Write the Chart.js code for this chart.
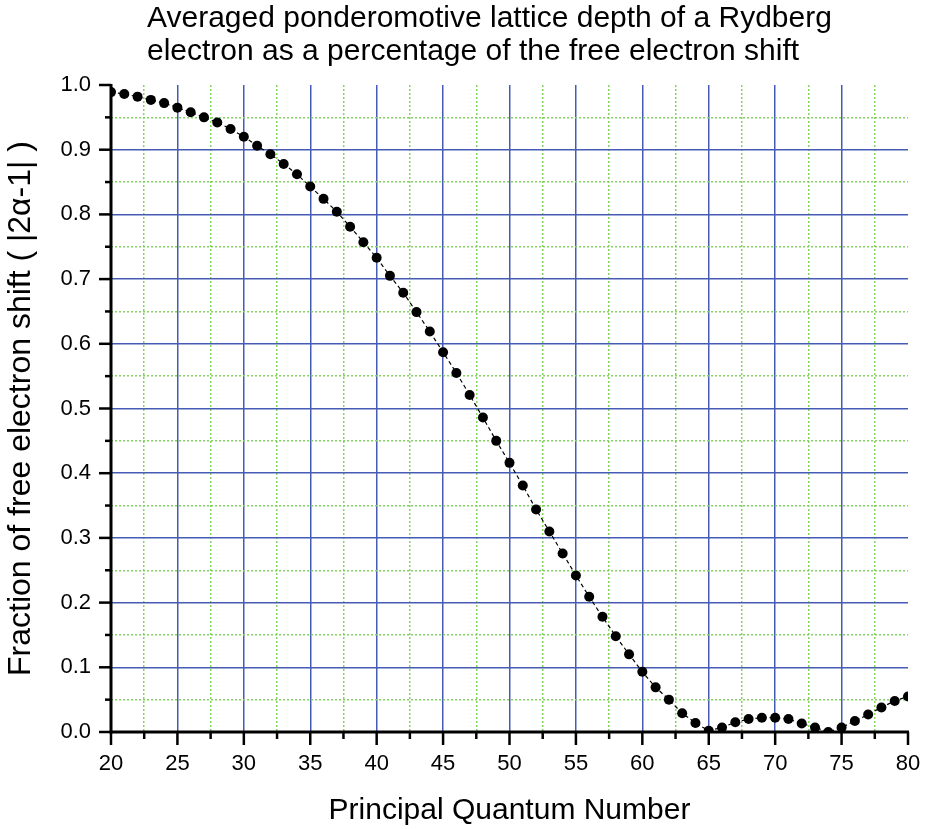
<!DOCTYPE html>
<html>
<head>
<meta charset="utf-8">
<script src="https://cdn.jsdelivr.net/npm/chart.js@4.4.1/dist/chart.umd.min.js"></script>
<style>
  html, body { margin: 0; padding: 0; background: #ffffff; }
  #wrap { position: relative; width: 925px; height: 829px; }
</style>
</head>
<body>
<div id="wrap"><canvas id="c" width="925" height="829"></canvas></div>
<script>
// ---- data ----
const titleLines = [
  "Averaged ponderomotive lattice depth of a Rydberg",
  "electron as a percentage of the free electron shift"
];
const xAxisTitle = "Principal Quantum Number";
const yAxisTitle = "Fraction of free electron shift ( |2\u03B1-1| )";

const principalN = [20,21,22,23,24,25,26,27,28,29,30,31,32,33,34,35,36,37,38,39,40,
  41,42,43,44,45,46,47,48,49,50,51,52,53,54,55,56,57,58,59,60,
  61,62,63,64,65,66,67,68,69,70,71,72,73,74,75,76,77,78,79,80];
const fraction = [0.989,0.986,0.982,0.977,0.972,0.965,0.958,0.950,0.942,0.932,0.920,
  0.906,0.893,0.878,0.862,0.843,0.824,0.804,0.781,0.757,0.733,
  0.705,0.679,0.649,0.619,0.587,0.555,0.521,0.486,0.450,0.416,
  0.381,0.344,0.310,0.276,0.242,0.209,0.178,0.148,0.120,0.093,
  0.069,0.050,0.029,0.014,0.002,0.007,0.015,0.020,0.022,0.022,
  0.020,0.013,0.007,0.000,0.007,0.017,0.027,0.038,0.048,0.055];

const xTickLabels = ["20","25","30","35","40","45","50","55","60","65","70","75","80"];
const yTickLabels = ["0.0","0.1","0.2","0.3","0.4","0.5","0.6","0.7","0.8","0.9","1.0"];

// ---- styling ----
const FONT = '"Liberation Sans", Arial, sans-serif';
const BLUE = 'rgb(70,92,180)';
const GREEN = 'rgb(132,212,100)';

function labelFor(list, v) {
  const hit = list.find(l => Math.abs(parseFloat(l) - v) < 1e-6);
  return hit === undefined ? '' : hit;
}
function isMajor(list, v) { return labelFor(list, v) !== ''; }

function gridColor(list, min, max) {
  return ctx => {
    if (!ctx.tick) return 'rgba(0,0,0,0)';
    const v = ctx.tick.value;
    if (Math.abs(v - min) < 1e-6 || Math.abs(v - max) < 1e-6) return 'rgba(0,0,0,0)';
    return isMajor(list, v) ? BLUE : GREEN;
  };
}
function gridDash(list) {
  return ctx => (ctx.tick && !isMajor(list, ctx.tick.value)) ? [2, 2] : [];
}

const framePlugin = {
  id: 'frame',
  afterDraw(chart) {
    const ctx = chart.ctx;
    const xs = chart.scales.x, ys = chart.scales.y;
    const a = chart.chartArea;
    ctx.save();
    ctx.strokeStyle = '#000';
    ctx.lineCap = 'butt';
    // tick marks
    ctx.lineWidth = 2.5;
    xs.ticks.forEach(t => {
      const px = xs.getPixelForValue(t.value);
      const len = isMajor(xTickLabels, t.value) ? 13 : 7;
      ctx.beginPath(); ctx.moveTo(px, a.bottom); ctx.lineTo(px, a.bottom + len); ctx.stroke();
    });
    ys.ticks.forEach(t => {
      const py = ys.getPixelForValue(t.value);
      const len = isMajor(yTickLabels, t.value) ? 12 : 6;
      ctx.beginPath(); ctx.moveTo(a.left, py); ctx.lineTo(a.left - len, py); ctx.stroke();
    });
    // axis lines
    ctx.lineWidth = 3;
    ctx.beginPath(); ctx.moveTo(a.left, a.top - 1); ctx.lineTo(a.left, a.bottom + 1.5); ctx.stroke();
    ctx.beginPath(); ctx.moveTo(a.left - 1.5, a.bottom); ctx.lineTo(a.right + 1, a.bottom); ctx.stroke();
    // title
    ctx.fillStyle = '#000';
    ctx.font = '30px ' + FONT;
    ctx.textAlign = 'left';
    ctx.textBaseline = 'alphabetic';
    ctx.fillText(titleLines[0], 147, 27);
    ctx.fillText(titleLines[1], 147, 60);
    ctx.restore();
  }
};

new Chart(document.getElementById('c'), {
  type: 'line',
  data: {
    datasets: [{
      data: principalN.map((n, i) => ({ x: n, y: fraction[i] })),
      borderColor: '#000',
      borderWidth: 1.2,
      borderDash: [4, 3],
      pointRadius: 5,
      pointBackgroundColor: '#000',
      pointBorderWidth: 0,
      tension: 0
    }]
  },
  options: {
    responsive: false,
    animation: false,
    devicePixelRatio: 1,
    layout: { padding: { top: 85, right: 17, bottom: 0, left: 0 } },
    plugins: { legend: { display: false }, title: { display: false }, tooltip: { enabled: false } },
    scales: {
      x: {
        type: 'linear', min: 20, max: 80,
        afterFit: s => { s.height = 97; s.paddingLeft = 0; s.paddingRight = 0; },
        ticks: {
          stepSize: 2.5, autoSkip: false, maxRotation: 0, padding: 19,
          color: '#000', font: { family: FONT, size: 22 },
          callback: v => labelFor(xTickLabels, v)
        },
        grid: { drawTicks: false, lineWidth: 1.5, color: gridColor(xTickLabels, 20, 80) },
        border: { display: false, dash: gridDash(xTickLabels) },
        title: { display: true, text: xAxisTitle, color: '#000',
          font: { family: FONT, size: 30 }, padding: { top: 0, bottom: 0 } }
      },
      y: {
        type: 'linear', min: 0, max: 1,
        afterFit: s => { s.width = 111; s.paddingTop = 0; s.paddingBottom = 0; },
        ticks: {
          stepSize: 0.05, autoSkip: false, padding: 20,
          color: '#000', font: { family: FONT, size: 22 },
          callback: v => labelFor(yTickLabels, v)
        },
        grid: { drawTicks: false, lineWidth: 1.5, color: gridColor(yTickLabels, 0, 1) },
        border: { display: false, dash: gridDash(yTickLabels) },
        title: { display: true, text: yAxisTitle, color: '#000',
          font: { family: FONT, size: 32 }, padding: { top: 2, bottom: 0 } }
      }
    }
  },
  plugins: [framePlugin]
});
</script>
</body>
</html>
